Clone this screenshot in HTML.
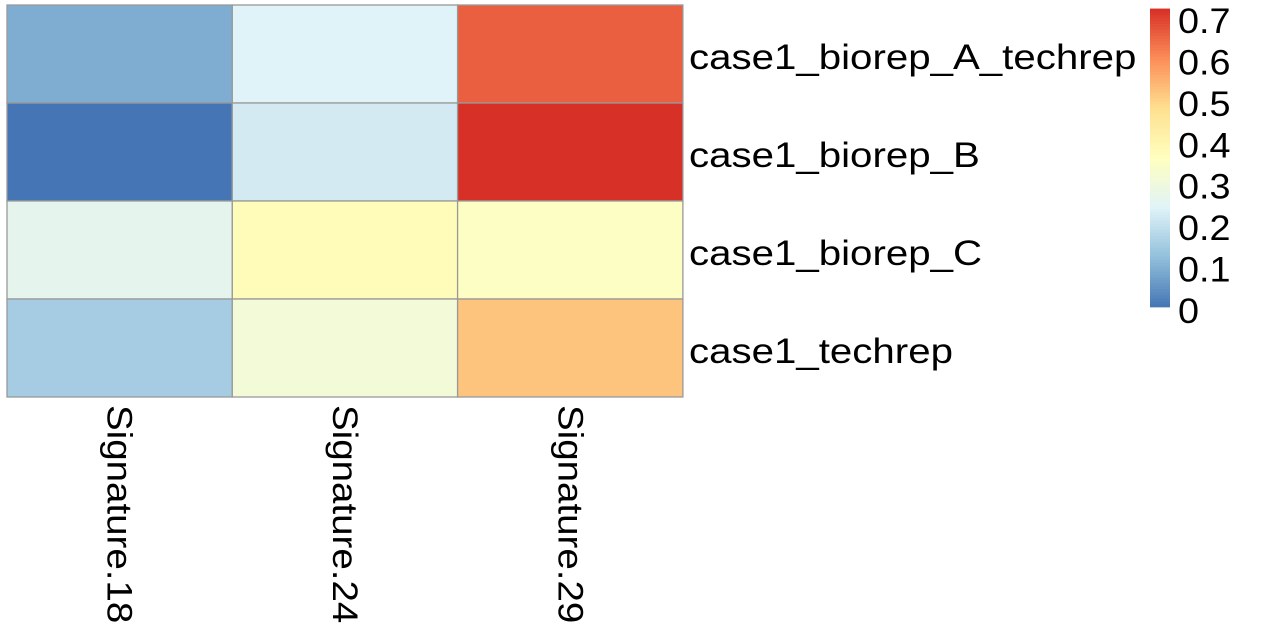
<!DOCTYPE html>
<html><head><meta charset="utf-8"><style>
body{margin:0;background:#fff;font-family:"Liberation Sans",sans-serif}
</style></head><body>
<svg id="chart" width="1267" height="640" xmlns="http://www.w3.org/2000/svg" style="display:block"></svg>
<script>
const rows = ["case1_biorep_A_techrep","case1_biorep_B","case1_biorep_C","case1_techrep"];
const cols = ["Signature.18","Signature.24","Signature.29"];
const sig18 = [0.10, 0.01, 0.27, 0.16];
const sig24 = [0.25, 0.23, 0.385, 0.32];
const sig29 = [0.67, 0.73, 0.36, 0.53];
const legendTicks = [0,0.1,0.2,0.3,0.4,0.5,0.6,0.7];
const legendLabels = ["0","0.1","0.2","0.3","0.4","0.5","0.6","0.7"];

const NS="http://www.w3.org/2000/svg";
const svg=document.getElementById('chart');
const pal=["#4575B4","#91BFDB","#E0F3F8","#FFFFBF","#FEE090","#FC8D59","#D73027"];
const series=[sig18,sig24,sig29];
const all=series.flat();
const vmin=Math.min(...all), vmax=Math.max(...all);
function hex(h){return [1,3,5].map(i=>parseInt(h.substr(i,2),16));}
function color(v){
  let t=(v-vmin)/(vmax-vmin); t=Math.max(0,Math.min(1,t))*(pal.length-1);
  let i=Math.min(Math.floor(t),pal.length-2), f=t-i;
  const a=hex(pal[i]), b=hex(pal[i+1]);
  return "rgb("+a.map((x,k)=>Math.round(x+(b[k]-x)*f)).join(",")+")";
}
const gx0=7, gy0=5, cw=225.3, rh=98;
function mk(tag,attrs){const e=document.createElementNS(NS,tag);for(const k in attrs)e.setAttribute(k,attrs[k]);svg.appendChild(e);return e;}
series.forEach((s,c)=>{
  s.forEach((v,r)=>{
    const e=mk('rect',{x:gx0+c*cw,y:gy0+r*rh,width:cw,height:rh,fill:color(v),stroke:'#999','stroke-width':1.3});
    
    
  });
});
rows.forEach((n,r)=>{
  const t=mk('text',{x:0,y:0,'font-size':35,fill:'#000',transform:`translate(689,${gy0+r*rh+rh/2+15}) scale(1.15,1)`});
  t.textContent=n;
  
  
});
cols.forEach((n,c)=>{
  const x=gx0+c*cw+cw/2;
  const t=mk('text',{x:0,y:0,'font-size':35,fill:'#000',transform:`translate(${x-12},405) rotate(90) scale(1.1,1)`});
  t.textContent=n;
  
  
});
// legend
const ly=v=>311-(v/0.1)*41.43;
const steps=100;
for(let i=0;i<steps;i++){
  const v0=vmin+(vmax-vmin)*i/steps, v1=vmin+(vmax-vmin)*(i+1)/steps;
  const e=mk('rect',{x:1150,y:ly(v1),width:20,height:ly(v0)-ly(v1)+0.5,fill:color((v0+v1)/2)});
  
  
}
legendTicks.forEach((v,i)=>{
  const t=mk('text',{x:0,y:0,'font-size':35,fill:'#000',transform:`translate(1178,${ly(v)+12}) scale(1.08,1)`});
  t.textContent=legendLabels[i];
  
  
});
</script>
</body></html>
